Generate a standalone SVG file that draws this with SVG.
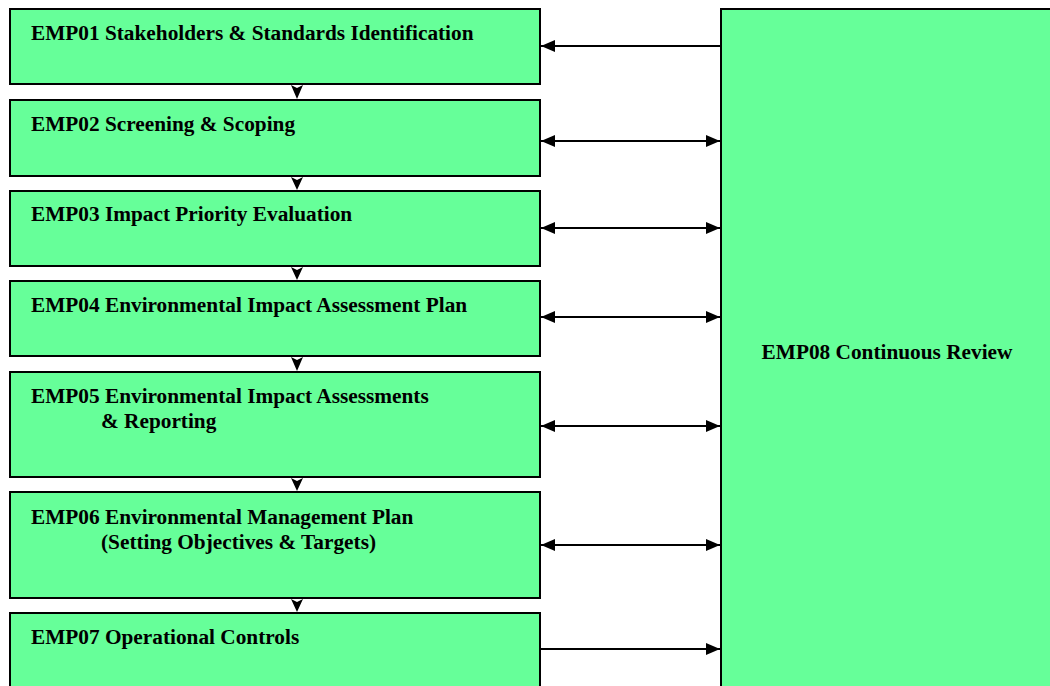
<svg xmlns="http://www.w3.org/2000/svg" width="1050" height="686" viewBox="0 0 1050 686">
<defs>
<style>
.box{fill:#66FF99;stroke:#000;stroke-width:2}
.t{font-family:"Liberation Serif","Times New Roman",serif;font-weight:bold;font-size:21.3px;fill:#000}
.c{stroke:#000;stroke-width:2;fill:none}
.dh{fill:#000}
</style>
<marker id="ah" viewBox="0 0 14 12" refX="14" refY="6" markerWidth="14" markerHeight="12" markerUnits="userSpaceOnUse" orient="auto-start-reverse">
<path d="M0,0 L14,6 L0,12 z" fill="#000"/>
</marker>
</defs>
<g id="EMP08"><rect class="box" x="721" y="9" width="340" height="690"/><text class="t" x="887" y="359" text-anchor="middle">EMP08 Continuous Review</text></g>
<g id="EMP01"><rect class="box" x="10" y="9" width="530" height="75"/><text class="t" x="31" y="40">EMP01 Stakeholders &amp; Standards Identification</text></g>
<g id="EMP02"><rect class="box" x="10" y="100" width="530" height="76"/><text class="t" x="31" y="131">EMP02 Screening &amp; Scoping</text></g>
<g id="EMP03"><rect class="box" x="10" y="191" width="530" height="75"/><text class="t" x="31" y="221">EMP03 Impact Priority Evaluation</text></g>
<g id="EMP04"><rect class="box" x="10" y="281" width="530" height="75"/><text class="t" x="31" y="312">EMP04 Environmental Impact Assessment Plan</text></g>
<g id="EMP05"><rect class="box" x="10" y="372" width="530" height="105"/><text class="t" x="31" y="403">EMP05 Environmental Impact Assessments</text><text class="t" x="101" y="428">&amp; Reporting</text></g>
<g id="EMP06"><rect class="box" x="10" y="492" width="530" height="106"/><text class="t" x="31" y="524">EMP06 Environmental Management Plan</text><text class="t" x="101" y="549">(Setting Objectives &amp; Targets)</text></g>
<g id="EMP07"><rect class="box" x="10" y="613" width="530" height="90"/><text class="t" x="31" y="644">EMP07 Operational Controls</text></g>
<g id="connectors">
<path class="dh" d="M291,85 L297,88 L303,85 L297,99 z"/>
<path class="dh" d="M291,177 L297,180 L303,177 L297,190 z"/>
<path class="dh" d="M291,267 L297,270 L303,267 L297,280 z"/>
<path class="dh" d="M291,357 L297,360 L303,357 L297,371 z"/>
<path class="dh" d="M291,478 L297,481 L303,478 L297,491 z"/>
<path class="dh" d="M291,599 L297,602 L303,599 L297,612 z"/>
<path class="c" d="M720,46 L541,46" marker-end="url(#ah)"/>
<path class="c" d="M541,141 L720,141" marker-start="url(#ah)" marker-end="url(#ah)"/>
<path class="c" d="M541,228 L720,228" marker-start="url(#ah)" marker-end="url(#ah)"/>
<path class="c" d="M541,317 L720,317" marker-start="url(#ah)" marker-end="url(#ah)"/>
<path class="c" d="M541,426 L720,426" marker-start="url(#ah)" marker-end="url(#ah)"/>
<path class="c" d="M541,545 L720,545" marker-start="url(#ah)" marker-end="url(#ah)"/>
<path class="c" d="M541,649 L720,649" marker-end="url(#ah)"/>
</g>
</svg>
